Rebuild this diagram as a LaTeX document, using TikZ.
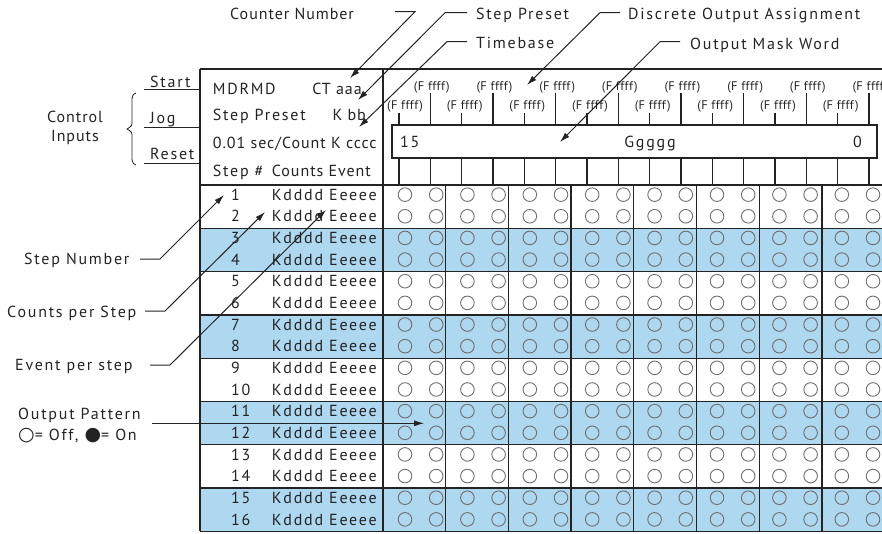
\documentclass[tikz,border=0pt]{standalone}
\usepackage{fontspec}
\setmainfont{PT Sans}[LetterSpace=11]
\newfontfamily\symfont{DejaVu Sans}
\usetikzlibrary{arrows.meta}
\definecolor{rowblue}{RGB}{174,215,240}
\definecolor{ink}{RGB}{35,35,35}
\definecolor{circ}{RGB}{110,110,110}
\begin{document}
\begin{tikzpicture}[x=1pt,y=-1pt,
  txt/.style={inner sep=0pt, font=\fontsize{16}{19}\selectfont, text=ink},
  tight/.style={txt, font=\fontsize{16}{19}\selectfont\addfontfeatures{LetterSpace=6}},
  small/.style={inner sep=0pt, font=\fontsize{12.5}{14}\selectfont\addfontfeatures{LetterSpace=3}, text=ink},
  gridline/.style={draw=ink, line width=1.3pt},
  tickline/.style={draw=ink, line width=1.1pt},
  lead/.style={draw=ink, line width=1pt},
  pin/.style={draw=ink, line width=1pt, -{Latex[length=10pt,width=6pt]}},
  led/.style={draw=circ, line width=0.9pt},
]
\useasboundingbox (0,0) rectangle (882,533);
% shaded rows
\foreach \g in {1,3,5,7}
  \fill[rowblue] (200,{185+43.3*\g}) rectangle (882,{185+43.3*(\g+1)});
% circles
\foreach \i in {1,...,16}
  \foreach \j in {0,...,15}
    \draw[led] ({405+31.2*\j},{185+21.65*(\i-0.5)-1.2}) circle (6.8pt);
% grid lines
\foreach \g in {0,...,8}
  \draw[gridline] (200,{185+43.3*\g}) -- (882,{185+43.3*\g});
\draw[gridline] (200,69) -- (882,69);
\draw[gridline] (200,69) -- (200,531.4);
\draw[gridline] (383,69) -- (383,531.4);
\foreach \k in {1,...,7}
  \draw[gridline] ({383+62.7*\k},185) -- ({383+62.7*\k},531.4);
% header ticks and labels
\foreach \t in {0,...,15}{
  \pgfmathsetmacro\tx{399+31.33*\t}
  \pgfmathsetmacro\ty{mod(\t,2)==1 ? 93 : 113}
  \draw[tickline] (\tx,\ty) -- (\tx,125);
  \draw[tickline] (\tx,158) -- (\tx,185);
}
\foreach \t in {1,3,...,15}{
  \pgfmathsetmacro\tx{399+31.33*\t+1.5}
  \node[small, anchor=base] (up\t) at (\tx,90.7) {(F ffff)};
}
\foreach \t in {2,4,...,14}{
  \pgfmathsetmacro\tx{399+31.33*\t+3}
  \node[small, anchor=base] (lo\t) at (\tx,109.5) {(F ffff)};
}
\node[small, anchor=base] (lo0) at (405,109.5) {(F ffff)};
% mask word box
\draw[tickline, fill=white] (392,125) rectangle (877,158);
\node[txt, anchor=base west] (m15) at (400,147) {15};
\node[txt, anchor=base] (mg) at (650,147) {Ggggg};
\node[txt, anchor=base east] (m0) at (862,147) {0};
% header text
\node[txt, anchor=base west] (mdrmd) at (212.7,94) {MDRMD};
\node[tight, anchor=base east] (ct) at (362,94) {CT aaa};
\node[txt, anchor=base west] (sp) at (212.7,120) {Step Preset};
\node[tight, anchor=base east] (kbb) at (366,120) {K bb};
\node[tight, anchor=base west] (tbase) at (212.7,148) {0.01 sec/Count K cccc};
\node[txt, anchor=base west] (stepno) at (212.7,176) {Step \#};
\node[tight, anchor=base west] (cev) at (271.7,176) {Counts Event};
% data rows
\foreach \i in {1,...,16}{
  \pgfmathsetmacro\by{185+21.65*(\i-0.5)+4.5}
  \node[txt, anchor=base west] (n\i) at (231,\by) {\i};
  \node[txt, anchor=base west] (k\i) at (271.7,\by) {Kdddd Eeeee};
}
% control inputs
\node[txt, anchor=base west] (start) at (150,87) {Start};
\node[txt, anchor=base west] (jog) at (150,123) {Jog};
\node[txt, anchor=base west] (reset) at (150,159) {Reset};
\coordinate (st-a) at (144,89);  \coordinate (st-b) at (200,89);
\coordinate (jg-a) at (144,127); \coordinate (jg-b) at (200,127);
\coordinate (rs-a) at (144,163); \coordinate (rs-b) at (200,163);
\draw[lead] (st-a) -- (st-b);
\draw[lead] (jg-a) -- (jg-b);
\draw[lead] (rs-a) -- (rs-b);
\draw[lead, line width=0.8pt] (136,93) .. controls (131,94) and (132,100) .. (132,108)
  -- (132,120) .. controls (132,126) .. (127,129) .. controls (132,132) .. (132,138)
  -- (132,150) .. controls (132,158) and (131,164) .. (136,165);
\node[tight, align=center] (ci) at (75,128) {Control\\Inputs};
% top labels
\node[tight, anchor=base west] (lcn) at (230,19) {Counter Number};
\coordinate (cn-a) at (395,11.7); \coordinate (cn-b) at (415,11.7); \coordinate (cn-t) at (350,78);
\draw[pin] (cn-a) -- (cn-b) -- (cn-t);
\node[txt, anchor=base west] (lsp) at (476,19) {Step Preset};
\coordinate (sp-a) at (467,12.7); \coordinate (sp-b) at (445,12.7); \coordinate (sp-t) at (358,100);
\draw[pin] (sp-a) -- (sp-b) -- (sp-t);
\node[txt, anchor=base west] (ltb) at (476,48.3) {Timebase};
\coordinate (tb-a) at (467,41.7); \coordinate (tb-b) at (447,41.7); \coordinate (tb-t) at (359,127);
\draw[pin] (tb-a) -- (tb-b) -- (tb-t);
\node[txt, anchor=base west] (ldo) at (628,19) {Discrete Output  Assignment};
\coordinate (do-a) at (620,12.7); \coordinate (do-b) at (600,12.7); \coordinate (do-t) at (527,85);
\draw[pin] (do-a) -- (do-b) -- (do-t);
\node[txt, anchor=base west] (lmw) at (690,49) {Output Mask  Word};
\coordinate (mw-a) at (680,41.7); \coordinate (mw-b) at (660,41.7); \coordinate (mw-t) at (560,142);
\draw[pin] (mw-a) -- (mw-b) -- (mw-t);
% left labels
\node[txt, anchor=base west] (lsn) at (24,264.3) {Step Number};
\coordinate (sn-a) at (140,259); \coordinate (sn-b) at (160,259); \coordinate (sn-t) at (224,195);
\draw[pin] (sn-a) -- (sn-b) -- (sn-t);
\node[txt, anchor=base west] (lcs) at (7,317.3) {Counts  per  Step};
\coordinate (cs-a) at (145,311); \coordinate (cs-b) at (165,311); \coordinate (cs-t) at (265,212);
\draw[pin] (cs-a) -- (cs-b) -- (cs-t);
\node[txt, anchor=base west] (lev) at (15,370) {Event per step};
\coordinate (ev-a) at (150,365); \coordinate (ev-b) at (170,365); \coordinate (ev-t) at (326,210);
\draw[pin] (ev-a) -- (ev-b) -- (ev-t);
\node[txt, anchor=base west] (lop) at (18,419.3) {Output Pattern};
\node[txt, anchor=base west] (lonoff) at (18,440) {{\symfont\fontsize{19}{20}\selectfont ○}= Off, {\symfont\fontsize{19}{20}\selectfont ●}= On};
\coordinate (op-a) at (152,423.3); \coordinate (op-t) at (424,423.3);
\draw[pin] (op-a) -- (op-t);
\end{tikzpicture}
\end{document}
